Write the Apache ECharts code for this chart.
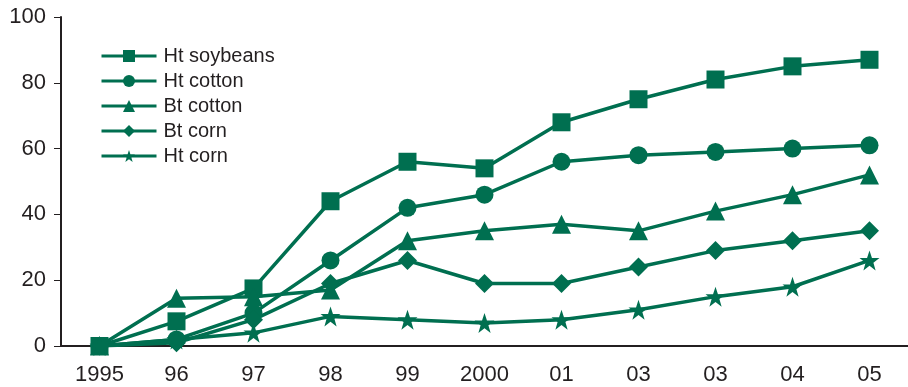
<!DOCTYPE html>
<html>
<head>
<meta charset="utf-8">
<script src="https://cdn.jsdelivr.net/npm/echarts@6/dist/echarts.min.js"></script>
<style>
  html, body { margin: 0; padding: 0; background: #fff; }
  #chart { width: 908px; height: 387px; }
</style>
</head>
<body>
<div id="chart"></div>
<script>
// x categories as printed (the second "03" is in the original)
const years = ["1995", "96", "97", "98", "99", "2000", "01", "03", "03", "04", "05"];

const htSoybeans = [0, 7.5, 17.5, 44, 56, 54, 68, 75, 81, 85, 87];
const htCotton   = [0, 2, 10, 26, 42, 46, 56, 58, 59, 60, 61];
const btCotton   = [0, 14.5, 15, 17, 32, 35, 37, 35, 41, 46, 52];
const btCorn     = [0, 1, 8, 19, 26, 19, 19, 24, 29, 32, 35];
const htCorn     = [0, 2, 4, 9, 8, 7, 8, 11, 15, 18, 26];

const GREEN = "#006f50";
const TEXT = "#231f20";
const FONT = "Liberation Sans";

const STAR = "path://M50,0 L61.8,35.1 L98.1,35.1 L68.8,56.8 L79.4,91.9 L50,70.2 L20.6,91.9 L31.2,56.8 L1.9,35.1 L38.2,35.1 Z";

function line(name, data, symbol, size) {
  return {
    name,
    type: "line",
    data,
    symbol,
    symbolSize: size,
    showAllSymbol: true,
    lineStyle: { color: GREEN, width: 3.5 },
    itemStyle: { color: GREEN },
    z: 2,
  };
}

const chart = echarts.init(document.getElementById("chart"), null, { renderer: "canvas" });
chart.setOption({
  animation: false,
  backgroundColor: "#fff",
  grid: { left: 61, right: 0, top: 17, bottom: 41 },
  legend: {
    orient: "vertical",
    left: 95,
    top: 41,
    itemWidth: 55,
    itemHeight: 15,
    itemGap: 5,
    lineStyle: { width: 3 },
    textStyle: { fontFamily: FONT, fontSize: 20, lineHeight: 20, color: TEXT, padding: [0, 0, 0, 2] },
    data: ["Ht soybeans", "Ht cotton", "Bt cotton", "Bt corn", "Ht corn"],
  },
  xAxis: {
    type: "category",
    data: years,
    boundaryGap: true,
    axisLine: { lineStyle: { color: TEXT, width: 2 } },
    axisTick: { alignWithLabel: true, length: 8, lineStyle: { color: "#888", width: 1 } },
    axisLabel: { fontFamily: FONT, fontSize: 22, color: TEXT, margin: 18, interval: 0 },
  },
  yAxis: {
    type: "value",
    min: 0,
    max: 100,
    interval: 20,
    splitLine: { show: false },
    axisLine: { show: true, lineStyle: { color: TEXT, width: 2 } },
    axisTick: { show: true, length: 7, lineStyle: { color: TEXT, width: 1 } },
    axisLabel: { fontFamily: FONT, fontSize: 22, color: TEXT, margin: 15 },
  },
  series: [
    line("Ht soybeans", htSoybeans, "rect", 18),
    line("Ht cotton", htCotton, "circle", 18),
    line("Bt cotton", btCotton, "triangle", 19),
    line("Bt corn", btCorn, "diamond", 19),
    line("Ht corn", htCorn, STAR, 20),
  ],
});
</script>
</body>
</html>
